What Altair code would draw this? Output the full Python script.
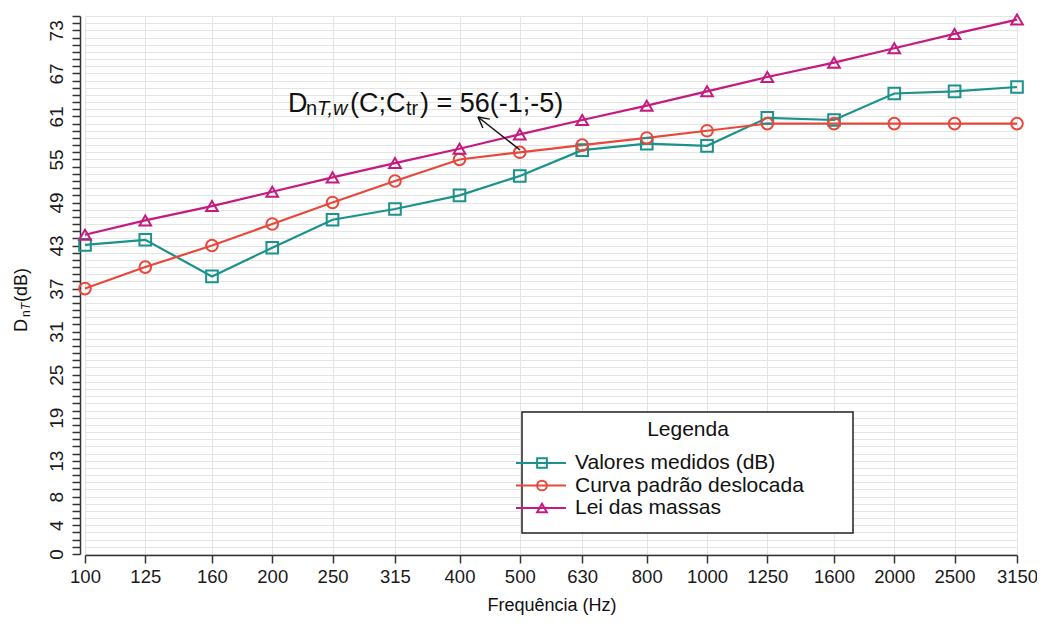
import math
import altair as alt
import pandas as pd

# ---------------- data ----------------
freqs = [100, 125, 160, 200, 250, 315, 400, 500, 630, 800, 1000, 1250, 1600, 2000, 2500, 3150]
medidos = [43.1, 43.8, 38.7, 42.7, 46.6, 48.1, 50.0, 52.7, 56.3, 57.2, 56.9, 60.8, 60.5, 64.2, 64.5, 65.1]
curva = [37, 40, 43, 46, 49, 52, 55, 56, 57, 58, 59, 60, 60, 60, 60, 60]
massas = [44.5, 46.5, 48.5, 50.5, 52.5, 54.5, 56.5, 58.5, 60.5, 62.5, 64.5, 66.5, 68.5, 70.5, 72.5, 74.5]

series_names = ["Valores medidos (dB)", "Curva padrão deslocada", "Lei das massas"]
series_colors = ["#1b928b", "#e8483b", "#c51b80"]
series_shapes = ["square", "circle", "triangle-up"]
series_values = [medidos, curva, massas]

y_ticks = list(range(0, 76))
y_label_values = [0, 4, 8, 13, 19, 25, 31, 37, 43, 49, 55, 61, 67, 73]

FONT = "Liberation Sans"
W, H = 932, 538
ORIGIN_X, ORIGIN_Y = 85, 16  # page position of plot origin (page margin 8 + padding)

rows = []
for name, vals in zip(series_names, series_values):
    for f, v in zip(freqs, vals):
        rows.append({"freq": f, "value": v, "serie": name})
df = pd.DataFrame(rows)

one = pd.DataFrame({"k": [0]})

xenc = alt.X(
    "freq:Q",
    scale=alt.Scale(type="log", domain=[100, 3150], nice=False, zero=False),
    axis=alt.Axis(
        values=freqs, tickCount=100, format="d", title=None, labelFontSize=18.5, labelFont=FONT,
        labelColor="#1a1a1a", tickSize=8, tickColor="#333333", tickWidth=1.5,
        domainColor="#333333", domainWidth=1.5, grid=True, gridColor="#e4e4e4",
        gridWidth=1, labelPadding=4, labelFlush=False, labelOverlap=False, offset=1,
    ),
)
yenc = alt.Y(
    "value:Q",
    scale=alt.Scale(domain=[0, 75], nice=False, zero=False),
    axis=alt.Axis(
        values=y_ticks, tickCount=200, format="d", title=None, labelFontSize=19, labelFont=FONT,
        labelColor="#1a1a1a", labelAngle=270, labelAlign="center",
        labelBaseline="alphabetic", labelPadding=10, tickSize=8,
        tickColor="#333333", tickWidth=1.5, domainColor="#333333", domainWidth=1.5,
        grid=True, gridColor="#e4e4e4", gridWidth=1, labelOverlap=False,
        labelExpr="indexof(" + str(y_label_values) + ", datum.value) >= 0 ? datum.label : ''",
        offset=5,
    ),
)
color = alt.Color("serie:N", scale=alt.Scale(domain=series_names, range=series_colors), legend=None)
shape = alt.Shape("serie:N", scale=alt.Scale(domain=series_names, range=series_shapes), legend=None)

base = alt.Chart(df)
lines = base.mark_line(strokeWidth=2.2).encode(x=xenc, y=yenc, color=color, detail="serie:N")
points = base.mark_point(filled=False, size=135, strokeWidth=2, opacity=1).encode(
    x="freq:Q", y="value:Q", color=color, shape=shape
)


def px(x):
    return x - ORIGIN_X


def py(y):
    return y - ORIGIN_Y


def text_piece(txt, x, y, size, angle=0, italic=False, align="left", baseline="alphabetic"):
    kw = dict(text=txt, align=align, baseline=baseline, fontSize=size, font=FONT, color="#111111")
    if angle:
        kw["angle"] = angle
    if italic:
        kw["fontStyle"] = "italic"
    return alt.Chart(one).mark_text(**kw).encode(x=alt.value(px(x)), y=alt.value(py(y)))


# annotation D_nT,w(C;C_tr) = 56(-1;-5)
annot = [
    text_piece("D", 288, 112, 27),
    text_piece("n", 306, 115, 20),
    text_piece("T,w", 317, 115, 20, italic=True),
    text_piece("(C;C", 350, 112, 27),
    text_piece("tr", 406, 115, 20),
    text_piece(") = 56(-1;-5)", 420, 112, 27),
]

# arrow from the 500 Hz point to the annotation
tail = (520, 150)
tip = (478, 117)
dx, dy = tail[0] - tip[0], tail[1] - tip[1]
L = math.hypot(dx, dy)
ux, uy = dx / L, dy / L
arrow = [alt.Chart(one).mark_rule(color="#111111", strokeWidth=1.5).encode(
    x=alt.value(px(tail[0])), y=alt.value(py(tail[1])),
    x2=alt.value(px(tip[0])), y2=alt.value(py(tip[1])))]
for ang in (28, -28):
    a = math.radians(ang)
    hx = ux * math.cos(a) - uy * math.sin(a)
    hy = ux * math.sin(a) + uy * math.cos(a)
    arrow.append(alt.Chart(one).mark_rule(color="#111111", strokeWidth=1.5).encode(
        x=alt.value(px(tip[0])), y=alt.value(py(tip[1])),
        x2=alt.value(px(tip[0] + 12 * hx)), y2=alt.value(py(tip[1] + 12 * hy))))

# y-axis title D_nT(dB), rotated
ytitle = [
    text_piece("D", 27, 332, 18, angle=270),
    text_piece("n", 30, 317, 12, angle=270),
    text_piece("T", 30, 310, 12, angle=270, italic=True),
    text_piece("(dB)", 27, 302, 18, angle=270),
]

# x-axis title
xtitle = [text_piece("Frequência (Hz)", 552, 606, 18, align="center", baseline="middle")]

# legend (manual)
leg = [
    alt.Chart(one).mark_rect(fill="white", stroke="#222222", strokeWidth=1.5).encode(
        x=alt.value(px(522)), x2=alt.value(px(853)), y=alt.value(py(412)), y2=alt.value(py(533))),
    text_piece("Legenda", 688, 430, 21, align="center", baseline="middle"),
]
for i, (name, col, shp) in enumerate(zip(series_names, series_colors, series_shapes)):
    yy = 463 + i * 22.5
    leg.append(alt.Chart(one).mark_rule(color=col, strokeWidth=2.2).encode(
        x=alt.value(px(516)), x2=alt.value(px(566)), y=alt.value(py(yy))))
    leg.append(alt.Chart(one).mark_point(shape=shp, filled=False, size=95, strokeWidth=2,
                                          color=col, opacity=1).encode(
        x=alt.value(px(542)), y=alt.value(py(yy))))
    leg.append(text_piece(name, 575, yy, 21, baseline="middle"))

chart = alt.layer(lines, points, *annot, *arrow, *ytitle, *xtitle, *leg).properties(
    width=W, height=H,
    autosize=alt.AutoSizeParams(type="none"),
    padding={"left": 77, "top": 8, "right": 20, "bottom": 62},
).configure_view(strokeWidth=0).configure(font=FONT)

chart.save("out.html", embed_options={"renderer": "svg", "actions": False})
